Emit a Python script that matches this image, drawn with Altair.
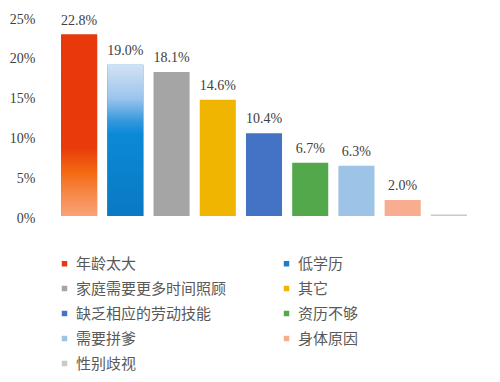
import altair as alt
import pandas as pd

categories = ["年龄太大", "低学历", "家庭需要更多时间照顾", "其它", "缺乏相应的劳动技能",
              "资历不够", "需要拼爹", "身体原因", "性别歧视"]
values = [22.8, 19.0, 18.1, 14.6, 10.4, 6.7, 6.3, 2.0, 0.2]
labels = ["22.8%", "19.0%", "18.1%", "14.6%", "10.4%", "6.7%", "6.3%", "2.0%", ""]
colors = ["#e8380d", "#1a80cc", "#a5a5a5", "#efb500", "#4472c4", "#52a84a",
          "#9dc3e6", "#f8ad90", "#c9c9c9"]

df = pd.DataFrame({"cat": categories, "value": values, "label": labels})

x = alt.X("cat:N", sort=categories, axis=None,
          scale=alt.Scale(paddingInner=0.22, paddingOuter=0.11))
y = alt.Y("value:Q", scale=alt.Scale(domain=[0, 25], nice=False),
          axis=alt.Axis(values=[0, 5, 10, 15, 20, 25], labelExpr="datum.value + '%'",
                        grid=False, ticks=False, domain=False, title=None))

base = alt.Chart(df)

bars = base.mark_bar().encode(
    x=x, y=y,
    color=alt.Color("cat:N", sort=categories,
                    scale=alt.Scale(domain=categories, range=colors),
                    legend=alt.Legend(title=None, orient="none", legendX=1, legendY=239,
                                      direction="horizontal",
                                      columns=2, columnPadding=52, rowPadding=9,
                                      symbolType="square", symbolSize=30,
                                      symbolStrokeWidth=0, labelOffset=4,
                                      labelFont="Noto Sans CJK SC", labelFontSize=15,
                                      labelColor="#595959", labelLimit=300)),
)

grad1 = alt.Gradient(gradient="linear", x1=0, x2=0, y1=0, y2=1, stops=[
    alt.GradientStop(color="#e8380d", offset=0),
    alt.GradientStop(color="#e83a0a", offset=0.62),
    alt.GradientStop(color="#f36a12", offset=0.76),
    alt.GradientStop(color="#f7894a", offset=0.88),
    alt.GradientStop(color="#f9a378", offset=1),
])
grad2 = alt.Gradient(gradient="linear", x1=0, x2=0, y1=0, y2=1, stops=[
    alt.GradientStop(color="#d2e2f5", offset=0),
    alt.GradientStop(color="#9cc5ec", offset=0.22),
    alt.GradientStop(color="#2f96dd", offset=0.38),
    alt.GradientStop(color="#0a8ad6", offset=0.46),
    alt.GradientStop(color="#0b78c3", offset=1),
])

g1 = base.transform_filter(alt.datum.cat == categories[0]).mark_bar(color=grad1).encode(x=x, y=y)
g2 = base.transform_filter(alt.datum.cat == categories[1]).mark_bar(color=grad2).encode(x=x, y=y)

text = base.mark_text(baseline="bottom", dy=-7, font="Liberation Serif", fontSize=14,
                      color="#404040").encode(x=x, y=y, text="label:N")

chart = alt.layer(bars, g1, g2, text).properties(
    width=416, height=199,
    autosize=alt.AutoSizeParams(type="none"),
    padding={"left": 48, "top": 9, "right": 20, "bottom": 158},
).configure_view(stroke=None).configure_axis(
    labelFont="Liberation Serif", labelFontSize=14, labelColor="#404040",
    labelPadding=21, labelOffset=2, labelFontWeight="normal"
)

chart.save("out.html", embed_options={"renderer": "svg", "actions": False})
